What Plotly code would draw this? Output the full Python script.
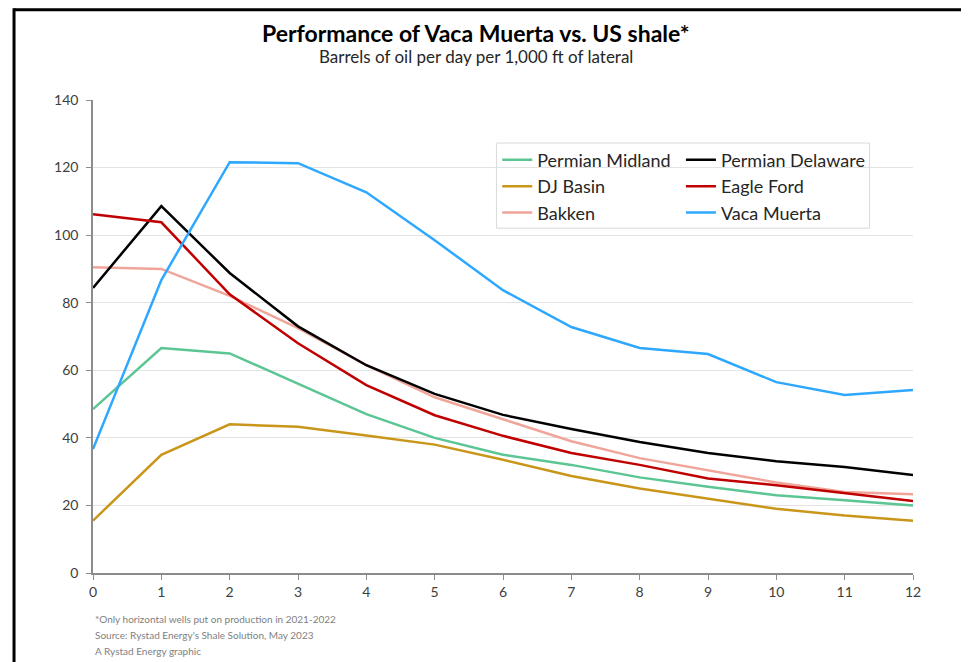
import plotly.graph_objects as go

months = list(range(13))

permian_midland = [48.5, 66.6, 65.0, 56.0, 47.0, 40.0, 35.0, 32.0, 28.3, 25.5, 23.0, 21.5, 20.0]
permian_delaware = [84.4, 108.6, 88.8, 73.0, 61.5, 53.0, 46.8, 42.6, 38.8, 35.5, 33.1, 31.4, 29.0]
dj_basin = [15.5, 35.0, 44.0, 43.3, 40.7, 38.0, 33.5, 28.7, 25.0, 22.0, 19.0, 17.0, 15.5]
eagle_ford = [106.2, 103.8, 82.5, 68.0, 55.6, 46.7, 40.6, 35.5, 32.0, 28.0, 26.0, 23.7, 21.3]
bakken = [90.5, 90.0, 82.0, 72.5, 61.5, 52.0, 45.5, 39.0, 34.0, 30.5, 26.8, 24.0, 23.3]
vaca_muerta = [36.7, 86.7, 121.6, 121.3, 112.7, 98.5, 83.7, 72.8, 66.6, 64.8, 56.5, 52.7, 54.2]

FONT = "Lato"
series = [
    ("Permian Midland", permian_midland, "#5cc594", "legend"),
    ("DJ Basin", dj_basin, "#c9961a", "legend"),
    ("Bakken", bakken, "#f0a59a", "legend"),
    ("Permian Delaware", permian_delaware, "#000000", "legend2"),
    ("Eagle Ford", eagle_ford, "#c00000", "legend2"),
    ("Vaca Muerta", vaca_muerta, "#2ea8ff", "legend2"),
]

fig = go.Figure()
for name, values, color, leg in series:
    fig.add_trace(
        go.Scatter(
            x=months,
            y=values,
            name=name,
            mode="lines",
            line=dict(color=color, width=2.5),
            legend=leg,
        )
    )

legend_style = dict(
    orientation="v",
    xanchor="left",
    yanchor="top",
    y=0.912,
    bgcolor="rgba(0,0,0,0)",
    font=dict(family=FONT, size=18, color="#262626"),
    tracegroupgap=0,
    itemwidth=30,
)

# page body adds 8px margin, so figure is 8px smaller than the window
fig.update_layout(
    width=961,
    height=654,
    margin=dict(l=85, r=56, t=92, b=89),
    paper_bgcolor="white",
    plot_bgcolor="white",
    font=dict(family=FONT, color="#404040"),
    legend=dict(x=0.493, **legend_style),
    legend2=dict(x=0.717, **legend_style),
    xaxis=dict(
        range=[0, 12],
        dtick=1,
        showgrid=False,
        showline=True,
        linecolor="#8c8c8c",
        linewidth=1.5,
        ticks="outside",
        ticklen=5,
        tickcolor="#8c8c8c",
        tickfont=dict(size=14, color="#404040"),
        zeroline=False,
    ),
    yaxis=dict(
        range=[0, 140],
        dtick=20,
        showgrid=True,
        gridcolor="#e3e3e3",
        gridwidth=1,
        showline=True,
        linecolor="#8c8c8c",
        linewidth=1.5,
        ticks="outside",
        ticklen=5,
        tickcolor="#8c8c8c",
        tickfont=dict(size=14, color="#404040"),
        ticklabelstandoff=5,
        zeroline=False,
    ),
)

# legend frame around both legend columns
fig.add_shape(
    type="rect", xref="paper", yref="paper",
    x0=0.492, x1=0.947, y0=0.729, y1=0.909,
    line=dict(color="#d9d9d9", width=1), fillcolor="rgba(0,0,0,0)",
)

# outer frame (top and left black lines)
fig.add_shape(type="line", xref="paper", yref="paper", x0=-0.0963, x1=1.1, y0=1.191, y1=1.191,
              line=dict(color="black", width=3))
fig.add_shape(type="line", xref="paper", yref="paper", x0=-0.0963, x1=-0.0963, y0=1.194, y1=-0.25,
              line=dict(color="black", width=3))

fig.add_annotation(
    text="<b>Performance of Vaca Muerta vs. US shale*</b>",
    xref="paper", yref="paper", x=0.467, y=1.141, xanchor="center", yanchor="middle",
    showarrow=False, font=dict(family=FONT, size=23, color="#000000"),
)
fig.add_annotation(
    text="Barrels of oil per day per 1,000 ft of lateral",
    xref="paper", yref="paper", x=0.467, y=1.091, xanchor="center", yanchor="middle",
    showarrow=False, font=dict(family=FONT, size=17, color="#262626"),
)

footnotes = [
    "*Only horizontal wells put on production in 2021-2022",
    "Source: Rystad Energy's Shale Solution, May 2023",
    "A Rystad Energy graphic",
]
for i, line in enumerate(footnotes):
    fig.add_annotation(
        text=line, xref="paper", yref="paper", x=0.0, y=-0.097 - i * 0.034,
        xanchor="left", yanchor="middle", showarrow=False,
        font=dict(family=FONT, size=10, color="#7f7f7f"),
    )

fig.write_html("out.html")
